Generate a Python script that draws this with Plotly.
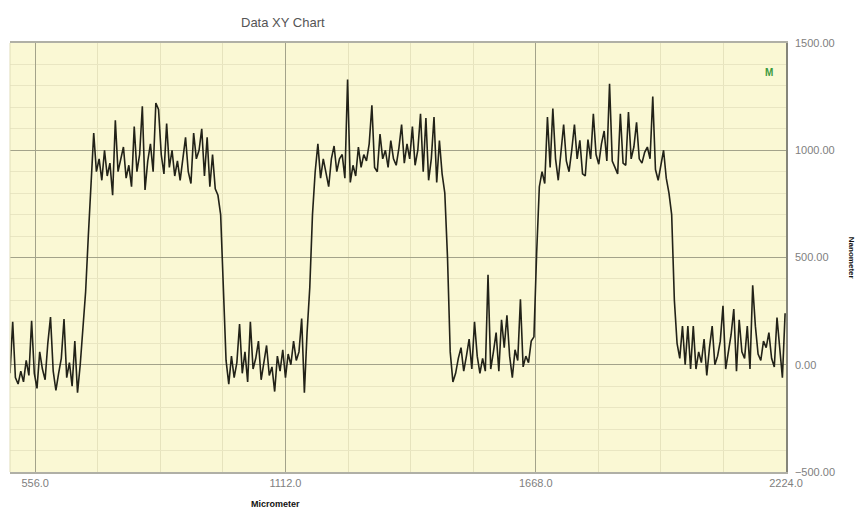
import plotly.graph_objects as go

# ---- data ----
X_START = 500.0   # micrometer, first sample
X_STEP = 6.0      # micrometer, sampling interval

low_1 = [-40, 200, -60, -90, -30, -80, 20, -50, 205, -40, -110, 60, -20, -70, 100, 222,
         -30, -120, -40, 30, 213, -60, 10, -100, 110, -130]
rise_1 = [0, 150, 340, 600, 830]
high_1 = [1080, 900, 960, 860, 1000, 880, 940, 790, 1140, 900, 960, 1015, 870, 930, 830, 1110,
          900, 980, 1205, 815, 950, 1030, 900, 1220, 1190, 980, 890, 1125, 920, 1000, 880, 950,
          860, 960, 1060, 900, 845, 1080, 960, 1000, 1100, 880, 1060, 830, 980, 820, 790]
fall_1 = [700, 340, 20]
low_2 = [-90, 40, -60, 10, 190, -40, 60, -80, 200, -20, 30, 110, -70, 20, 90, -50, -10, -125,
         40, -30, 70, -60, 50, 0, 110, 20, 60, 215, -130]
rise_2 = [150, 360, 700]
high_2 = [900, 1030, 870, 960, 900, 830, 960, 1020, 900, 960, 980, 870, 1330, 850, 930, 880,
          1015, 920, 980, 950, 1030, 1210, 920, 900, 1075, 960, 1000, 920, 1045, 960, 930, 1010,
          1120, 940, 1030, 960, 1110, 930, 1000, 1170, 900, 1150, 860, 960, 1155, 850, 1045, 890,
          800]
fall_2 = [500, 60]
low_3 = [-80, -40, 30, 80, -30, 40, 120, -20, 200, 40, -40, 30, -30, 420, -20, 60, 150, -30,
         210, 80, 230, 40, -60, 70, 20, 305, -10, 40, 10, 110]
rise_3 = [130, 520, 830]
high_3 = [900, 845, 1155, 920, 1195, 960, 860, 990, 1120, 950, 900, 1000, 1120, 960, 1046, 890,
          880, 1050, 960, 1170, 980, 935, 1030, 1090, 950, 1310, 950, 920, 890, 1170, 940, 930,
          1178, 960, 1015, 1130, 960, 940, 990, 1015, 960, 1250, 910, 860, 940, 1000, 870]
fall_3 = [800, 700, 300]
low_4 = [100, 30, 180, 0, 180, -20, 180, -20, 60, 10, 120, -50, 80, 180, 0, 40, 110, 275, -20,
         60, 140, 260, -30, 210, 60, 30, 180, -20, 370, 180, 50, 20, 110, 80, 150, 30, -10, 220,
         60, -60, 240]

nanometer = (low_1 + rise_1 + high_1 + fall_1 + low_2 + rise_2 + high_2 + fall_2 +
             low_3 + rise_3 + high_3 + fall_3 + low_4)
micrometer = [X_START + X_STEP * i for i in range(len(nanometer))]

x_ticks = [556.0, 1112.0, 1668.0, 2224.0]
y_ticks = [-500, 0, 500, 1000, 1500]

# ---- figure ----
fig = go.Figure()
fig.add_trace(go.Scatter(
    x=micrometer, y=nanometer, mode="lines",
    line=dict(color="#222218", width=1.6),
    showlegend=False, hoverinfo="skip",
))

font_family = "Liberation Sans, Arial, sans-serif"

fig.update_layout(
    width=865, height=513,
    margin=dict(l=2, r=87, t=35, b=49),
    paper_bgcolor="white",
    plot_bgcolor="#faf8d4",
    font=dict(family=font_family, size=11, color="#808080"),
    xaxis=dict(
        range=[X_START, 2224.0],
        tickvals=x_ticks, tickformat=".1f",
        showgrid=True, gridcolor="#a3a38a", gridwidth=1,
        minor=dict(dtick=139.0, tick0=556.0, showgrid=True, gridcolor="#e6e3bd", gridwidth=1),
        showline=True, linecolor="#b0b0a6", linewidth=2, mirror=True,
        zeroline=False, ticks="", tickfont=dict(size=11, color="#808080"),
        automargin=False,
    ),
    yaxis=dict(
        range=[-500, 1500], side="right",
        tickvals=y_ticks, tickformat=".2f",
        showgrid=True, gridcolor="#a3a38a", gridwidth=1,
        minor=dict(dtick=100, showgrid=True, gridcolor="#e9e6c2", gridwidth=1),
        showline=True, linecolor="#85857a", linewidth=1.5, mirror=False,
        zeroline=False, ticks="", ticklabelstandoff=5,
        tickfont=dict(size=11, color="#808080"),
        automargin=False,
    ),
    shapes=[
        dict(type="line", xref="paper", yref="paper", x0=0, x1=0, y0=0, y1=1,
             line=dict(color="#e0ddb8", width=1)),
    ],
    annotations=[
        dict(text="Data XY Chart", xref="paper", yref="paper", x=0.352, y=1.07,
             showarrow=False, font=dict(size=13, color="#555555")),
        dict(text="<b>Micrometer</b>", xref="paper", yref="paper", x=0.342, y=-0.09,
             showarrow=False, font=dict(size=9, color="#111111")),
        dict(text="<b>M</b>", xref="paper", yref="paper", x=0.986, y=0.948,
             showarrow=False, font=dict(size=10, color="#3c9a3c")),
        dict(text="<b>Nanometer</b>", xref="paper", yref="paper", x=1.093, y=0.5,
             textangle=90, showarrow=False, font=dict(size=8, color="#111111")),
    ],
)

fig.write_html("out.html")
